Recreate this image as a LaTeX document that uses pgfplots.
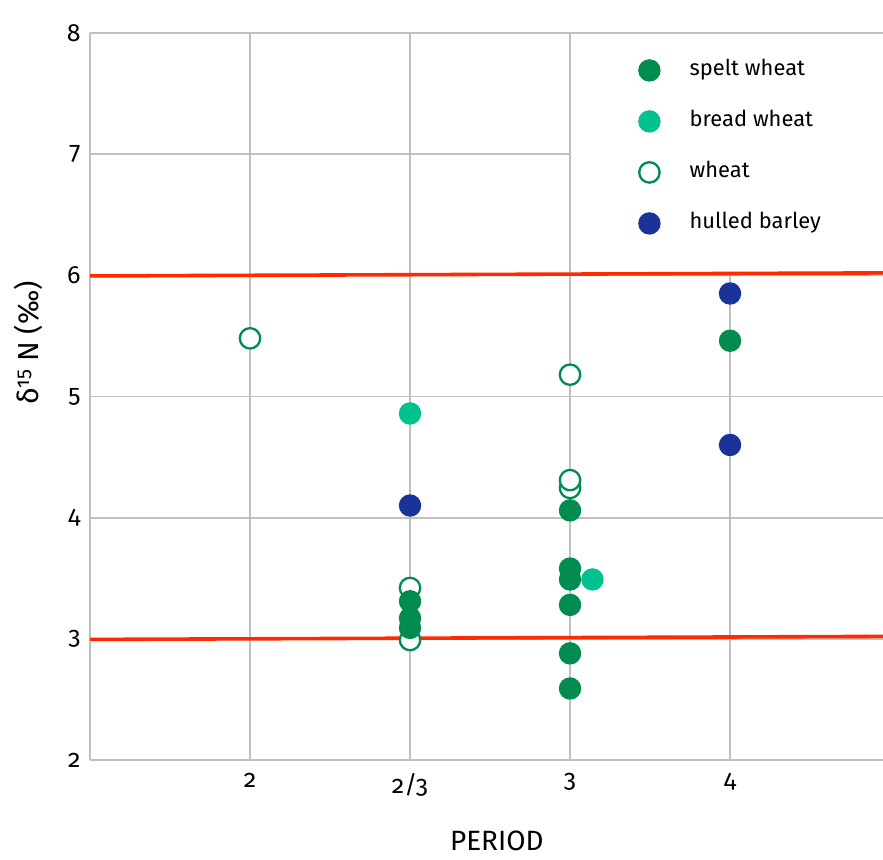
\documentclass[border=0pt]{standalone}
\usepackage{fontspec}
\setmainfont{Fira Sans}[Numbers=OldStyle]
\usepackage{pgfplots}
\pgfplotsset{compat=1.18}
\definecolor{spelt}{RGB}{0,140,78}
\definecolor{bread}{RGB}{0,194,143}
\definecolor{barley}{RGB}{26,51,153}
\definecolor{redl}{RGB}{255,42,0}
\definecolor{gridg}{RGB}{192,192,192}
\pgfplotsset{
  filledmk/.style={only marks, mark=*, mark size=10.6bp, mark options={draw=#1, fill=#1, line width=1.2bp}},
  openmk/.style={only marks, mark=*, mark size=10.2bp, mark options={draw=spelt, fill=white, line width=2.3bp}},
}
\begin{document}
\begin{tikzpicture}
\begin{axis}[
  scale only axis, width=793bp, height=727bp,
  xmin=0, xmax=4.956, ymin=2, ymax=8,
  xtick={1,2,3,4}, xticklabels={2,2/3,3,4},
  ytick={2,3,4,5,6,7,8},
  major tick length=0pt,
  axis x line*=bottom, axis y line*=left,
  axis line style={draw=gridg, line width=1.7bp},
  grid=major, major grid style={draw=gridg, line width=1.7bp},
  /pgf/number format/assume math mode=true,
  tick label style={font=\fontsize{25}{30}\selectfont, text=black},
  yticklabel style={xshift=-6bp},
  xticklabel style={yshift=-10bp},
  xlabel={PERIOD},
  ylabel={δ\textsuperscript{15} N (‰)},
  xlabel style={font=\fontsize{28}{32}\selectfont, inner sep=0pt, at={(axis description cs:0.513,0)}, anchor=base, yshift=-91bp},
  ylabel style={font=\fontsize{29}{34}\selectfont, inner sep=0pt, at={(axis description cs:-0.0782,0.5736)}, anchor=center},
  clip=false,
  legend style={at={(axis cs:3.40,7.80)}, anchor=north west, draw=none, fill=none,
    font=\fontsize{22}{26}\selectfont, row sep=29bp,
    nodes={inner xsep=0pt, inner ysep=0pt, text height=16bp, text depth=6bp}},
  legend cell align=left,
  legend image code/.code={\draw[#1] plot coordinates {(12bp,0bp)}; \path (0bp,-4bp) (52bp,4bp);},
]
% legend box (white) covering grid
\fill[white] (axis cs:3.009,7.99) rectangle (axis cs:4.956,6.02);
% reference lines
\addplot[redl, line width=3.6bp, forget plot] coordinates {(0,5.995) (4.956,6.02)};
\addplot[redl, line width=3.6bp, forget plot] coordinates {(0,2.995) (4.956,3.02)};
% wheat (open)
\addplot[openmk, forget plot] coordinates {
 (1,5.48)
 (2,2.99) (2,3.42)
 (3,4.245) (3,4.31) (3,5.18)
};
% spelt wheat
\addplot[filledmk=spelt, forget plot] coordinates {
 (2,3.09) (2,3.17) (2,3.31)
 (3,2.59) (3,2.88) (3,3.28) (3,3.49) (3,3.58) (3,4.06)
 (4,5.46)
};
% bread wheat
\addplot[filledmk=bread, forget plot] coordinates {
 (2,4.86) (3.14,3.49)
};
% hulled barley
\addplot[filledmk=barley, forget plot] coordinates {
 (2,4.10) (4,5.85) (4,4.60)
};
\addlegendimage{filledmk=spelt}\addlegendentry{spelt wheat}
\addlegendimage{filledmk=bread}\addlegendentry{bread wheat}
\addlegendimage{openmk}\addlegendentry{wheat}
\addlegendimage{filledmk=barley}\addlegendentry{hulled barley}
\end{axis}
\pgfresetboundingbox
\path (current axis.south west) ++(-90bp,-100bp) coordinate (bbsw);
\path (current axis.north east) ++(0bp,33bp) coordinate (bbne);
\path[use as bounding box] (bbsw) rectangle (bbne);
\end{tikzpicture}
\end{document}
